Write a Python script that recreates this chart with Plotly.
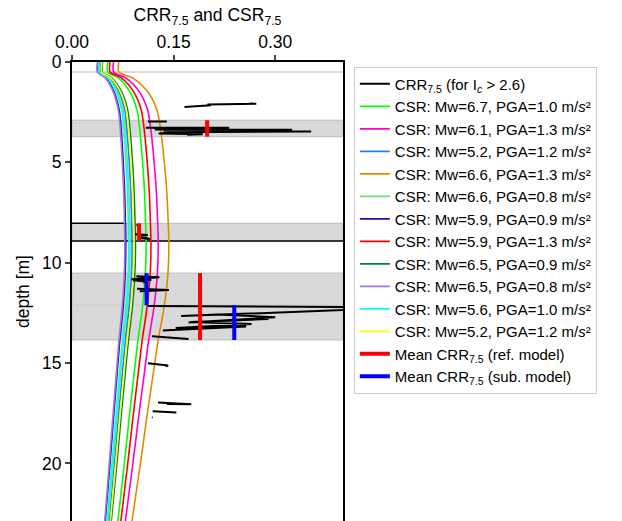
import plotly.graph_objects as go

# ---------------- data ----------------
depth = [0, 0.5, 0.8, 1.5, 2.4, 3.2, 4.9, 6.5, 8.0, 9.0, 10.5, 12.2, 13.9, 15.5, 17.8, 20.0, 23.0]

csr_labels = [
    "CSR: Mw=6.7, PGA=1.0 m/<i>s</i>²",
    "CSR: Mw=6.1, PGA=1.3 m/<i>s</i>²",
    "CSR: Mw=5.2, PGA=1.2 m/<i>s</i>²",
    "CSR: Mw=6.6, PGA=1.3 m/<i>s</i>²",
    "CSR: Mw=6.6, PGA=0.8 m/<i>s</i>²",
    "CSR: Mw=5.9, PGA=0.9 m/<i>s</i>²",
    "CSR: Mw=5.9, PGA=1.3 m/<i>s</i>²",
    "CSR: Mw=6.5, PGA=0.9 m/<i>s</i>²",
    "CSR: Mw=6.5, PGA=0.8 m/<i>s</i>²",
    "CSR: Mw=5.6, PGA=1.0 m/<i>s</i>²",
    "CSR: Mw=5.2, PGA=1.2 m/<i>s</i>²",
]
csr_colors = ["#00ff00", "#ff00cc", "#1e80ff", "#e08a00", "#70e080", "#2010a0",
              "#ff0000", "#008040", "#a078e0", "#00ffff", "#ffff00"]

csr_mw67_pga10 = [0.0528, 0.0528, 0.0689, 0.0857, 0.0960, 0.0995, 0.1040, 0.1071, 0.1086, 0.1094, 0.1084, 0.1040, 0.0972, 0.0918, 0.0842, 0.0773, 0.0673]
csr_mw61_pga13 = [0.0614, 0.0614, 0.0801, 0.0997, 0.1117, 0.1157, 0.1210, 0.1246, 0.1264, 0.1273, 0.1261, 0.1210, 0.1130, 0.1068, 0.0979, 0.0899, 0.0783]
csr_mw52_pga12a = [0.0428, 0.0428, 0.0558, 0.0694, 0.0778, 0.0806, 0.0843, 0.0868, 0.0880, 0.0887, 0.0879, 0.0843, 0.0787, 0.0744, 0.0682, 0.0626, 0.0546]
csr_mw66_pga13 = [0.0690, 0.0690, 0.0900, 0.1120, 0.1255, 0.1300, 0.1360, 0.1400, 0.1420, 0.1430, 0.1417, 0.1360, 0.1270, 0.1200, 0.1100, 0.1010, 0.0880]
csr_mw66_pga08 = [0.0414, 0.0414, 0.0540, 0.0672, 0.0753, 0.0780, 0.0816, 0.0840, 0.0852, 0.0858, 0.0850, 0.0816, 0.0762, 0.0720, 0.0660, 0.0606, 0.0528]
csr_mw59_pga09 = [0.0383, 0.0383, 0.0500, 0.0622, 0.0697, 0.0722, 0.0755, 0.0777, 0.0788, 0.0794, 0.0786, 0.0755, 0.0705, 0.0666, 0.0611, 0.0561, 0.0488]
csr_mw59_pga13 = [0.0562, 0.0562, 0.0734, 0.0913, 0.1023, 0.1060, 0.1108, 0.1141, 0.1157, 0.1165, 0.1155, 0.1108, 0.1035, 0.0978, 0.0897, 0.0823, 0.0717]
csr_mw65_pga09 = [0.0452, 0.0452, 0.0590, 0.0734, 0.0822, 0.0852, 0.0891, 0.0917, 0.0930, 0.0937, 0.0928, 0.0891, 0.0832, 0.0786, 0.0721, 0.0662, 0.0576]
csr_mw65_pga08 = [0.0376, 0.0376, 0.0491, 0.0610, 0.0684, 0.0709, 0.0741, 0.0763, 0.0774, 0.0779, 0.0772, 0.0741, 0.0692, 0.0654, 0.0600, 0.0550, 0.0480]
csr_mw56_pga10 = [0.0404, 0.0404, 0.0527, 0.0655, 0.0734, 0.0761, 0.0796, 0.0819, 0.0831, 0.0837, 0.0829, 0.0796, 0.0743, 0.0702, 0.0644, 0.0591, 0.0515]
csr_mw52_pga12b = [0.0442, 0.0442, 0.0576, 0.0717, 0.0803, 0.0832, 0.0870, 0.0896, 0.0909, 0.0915, 0.0907, 0.0870, 0.0813, 0.0768, 0.0704, 0.0646, 0.0563]

csr_values = [csr_mw67_pga10, csr_mw61_pga13, csr_mw52_pga12a, csr_mw66_pga13, csr_mw66_pga08,
              csr_mw59_pga09, csr_mw59_pga13, csr_mw65_pga09, csr_mw65_pga08, csr_mw56_pga10,
              csr_mw52_pga12b]

# CRR7.5 (for Ic > 2.6), gaps as None
crr_x = [0.166, 0.205, 0.200, 0.272, 0.215, 0.262, None,
         0.112, 0.140, None,
         0.109, 0.232, 0.122, 0.325, 0.135, 0.322, 0.353, 0.150, 0.128, 0.193, 0.170, None,
         0.095, 0.100, 0.097, None,
         0.093, 0.112, 0.098, 0.115, 0.102, None,
         0.095, 0.129, 0.088, 0.117, 0.090, 0.110, 0.105, None,
         0.096, 0.143, 0.100, None,
         0.112, 0.450, None,
         0.450, 0.161, 0.265, 0.215, 0.300, 0.172, 0.290, 0.175, 0.265, 0.153, 0.257, 0.134, 0.172, None,
         0.118, 0.150, 0.172, None,
         0.112, 0.142, 0.138, None,
         0.127, 0.150, 0.176, 0.140, None,
         0.119, 0.154, None,
         0.118, 0.119]
crr_depth = [2.24, 2.16, 2.12, 2.08, 2.10, 2.07, None,
             2.97, 2.96, None,
             3.28, 3.27, 3.36, 3.38, 3.42, 3.43, 3.46, 3.50, 3.56, 3.60, 3.63, None,
             8.10, 8.16, 8.30, None,
             8.58, 8.62, 8.68, 8.82, 8.78, None,
             10.68, 10.72, 10.82, 10.86, 10.88, 10.95, 11.00, None,
             11.30, 11.36, 11.42, None,
             12.16, 12.22, None,
             12.30, 12.66, 12.55, 12.58, 12.72, 12.98, 12.80, 12.95, 13.05, 13.25, 13.18, 13.38, 13.30, None,
             13.66, 13.74, 13.80, None,
             15.01, 15.12, 15.16, None,
             16.97, 17.02, 17.05, 17.04, None,
             17.40, 17.46, None,
             17.70, 17.72]

# mean CRR per layer
mean_ref_x = [0.1995, 0.1995, None, 0.099, 0.099, None, 0.189, 0.189]
mean_ref_depth = [2.90, 3.72, None, 8.04, 8.92, None, 10.52, 13.85]
mean_sub_x = [0.110, 0.110, None, 0.2395, 0.2395]
mean_sub_depth = [10.52, 12.12, None, 12.12, 13.85]

# layers (shaded)
layer_top = [2.90, 8.04, 10.52]
layer_bot = [3.72, 8.92, 13.85]
grey_lines = [0.5, 12.12]

FONT = "Liberation Sans, Arial, sans-serif"

fig = go.Figure()

for i, (lab, col, vals) in enumerate(zip(csr_labels, csr_colors, csr_values)):
    fig.add_trace(go.Scatter(x=vals, y=depth, mode="lines", name=lab,
                             line=dict(color=col, width=1.6, shape="spline", smoothing=0.8),
                             legendrank=10 + i))

fig.add_trace(go.Scatter(x=crr_x, y=crr_depth, mode="lines",
                         name="CRR<sub>7.5</sub> (for I<sub><i>c</i></sub> > 2.6)",
                         line=dict(color="black", width=2), connectgaps=False, legendrank=1))
fig.add_trace(go.Scatter(x=mean_ref_x, y=mean_ref_depth, mode="lines",
                         name="Mean CRR<sub>7.5</sub> (ref. model)",
                         line=dict(color="#ff0000", width=4), legendrank=50))
fig.add_trace(go.Scatter(x=mean_sub_x, y=mean_sub_depth, mode="lines",
                         name="Mean CRR<sub>7.5</sub> (sub. model)",
                         line=dict(color="#0000ff", width=4), legendrank=51))

shapes = []
for t, b in zip(layer_top, layer_bot):
    shapes.append(dict(type="rect", xref="x domain", yref="y", x0=0, x1=1, y0=t, y1=b,
                       fillcolor="#d9d9d9", line=dict(color="#bdbdbd", width=1), layer="below"))
for g in grey_lines:
    shapes.append(dict(type="line", xref="x domain", yref="y", x0=0, x1=1, y0=g, y1=g,
                       line=dict(color="#d0d0d0", width=1.5), layer="below"))
shapes.append(dict(type="line", xref="x", yref="y", x0=0, x1=0.08, y0=8.04, y1=8.04,
                   line=dict(color="black", width=1.5), layer="below"))
shapes.append(dict(type="line", xref="x domain", yref="y", x0=0, x1=1, y0=8.92, y1=8.92,
                   line=dict(color="black", width=1.5), layer="below"))

fig.update_layout(
    width=622, height=521,
    margin=dict(l=72, r=279, t=62, b=0),
    paper_bgcolor="white", plot_bgcolor="white",
    font=dict(family=FONT, size=17.5, color="black"),
    shapes=shapes,
    showlegend=True,
    legend=dict(x=1.04, y=0.99, xanchor="left", yanchor="top",
                font=dict(family=FONT, size=15, color="black"),
                bgcolor="white", bordercolor="#cccccc", borderwidth=1,
                tracegroupgap=0),
    xaxis=dict(side="top", range=[0, 0.4], tickvals=[0, 0.15, 0.30],
               ticktext=["0.00", "0.15", "0.30"], ticks="outside", ticklen=5, tickwidth=2,
               showline=True, linecolor="black", linewidth=2, mirror=False,
               showgrid=False, zeroline=False,
               title=dict(text="CRR<sub>7.5</sub> and CSR<sub>7.5</sub>", standoff=6,
                          font=dict(size=17.5))),
    yaxis=dict(range=[22.87, 0], tickvals=[0, 5, 10, 15, 20], ticks="outside", ticklen=5,
               tickwidth=2, showline=True, linecolor="black", linewidth=2, mirror=True,
               showgrid=False, zeroline=False,
               title=dict(text="depth [m]", standoff=8, font=dict(size=17.5))),
)

fig.write_html("out.html")
